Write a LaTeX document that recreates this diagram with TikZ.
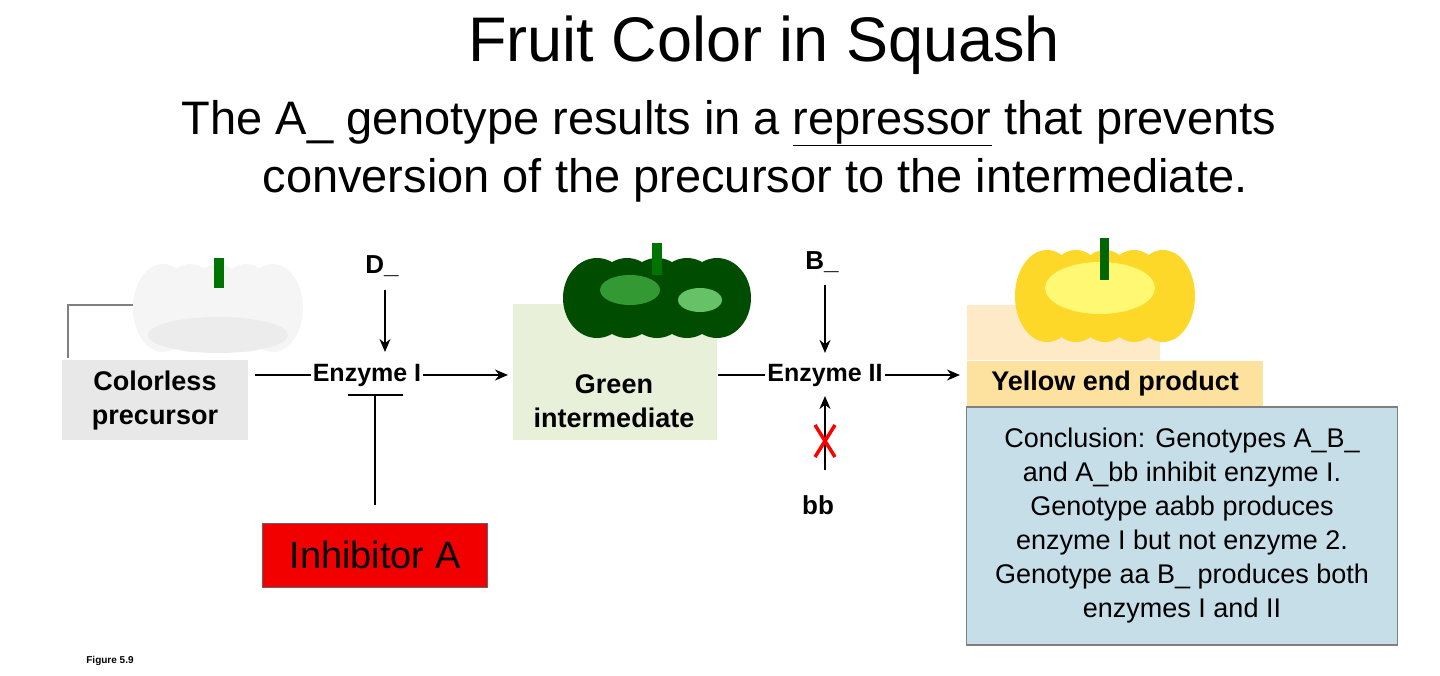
\documentclass[tikz,border=0pt]{standalone}
\usepackage{fontspec}
\usetikzlibrary{arrows.meta}
\setmainfont{Liberation Sans}
\begin{document}
\begin{tikzpicture}[x=1pt,y=-1pt,
  lbl/.style={font=\fontsize{27}{34}\selectfont\bfseries,align=center},
  arr/.style={line width=2pt,-{Stealth[length=13pt,width=11pt]}},
  ln/.style={line width=2pt}]
\useasboundingbox (0,0) rectangle (1440,676);
\node (title) at (764,45) {\fontsize{63}{68}\selectfont Fruit Color in Squash};
\node (sub1) at (729,123) [font=\fontsize{47}{57}\selectfont] {The A\_ genotype results in a \underline{repressor} that prevents};
\node (sub2) at (755,180) [font=\fontsize{47}{57}\selectfont] {conversion of the precursor to the intermediate.};
% white squash
\draw[gray,line width=1.5pt] (68,358) -- (68,305) -- (140,305);
\foreach \dx in {-55,-28,0,28,55} \fill[white!92!gray] (218+\dx,308) ellipse (30 and 44);
\fill[white!85!gray] (218,335) ellipse (70 and 18);
\fill[green!45!black] (214,258) rectangle (224,288);
\node[fill=gray!18,minimum width=186pt,minimum height=80pt] (cp) at (155,400) {};
\node[lbl] at (155,401) {Colorless\\precursor};
% green
\node[fill=green!20!olive!15,minimum width=204pt,minimum height=135pt] (gi) at (615,372) {};
\foreach \dx in {-60,-30,0,30,60} \fill[green!30!black] (657+\dx,298) ellipse (34 and 40);
\fill[green!50!black!80] (630,290) ellipse (30 and 15);
\fill[green!60!black!60] (700,300) ellipse (22 and 12);
\fill[green!45!black] (652,243) rectangle (662,275);
\node[lbl] at (614,401) {Green\\intermediate};
% yellow
\fill[yellow!25!orange!20] (967,305) rectangle (1160,360);
\node[fill=yellow!40!orange!35,minimum width=296pt,minimum height=45pt] (ye) at (1115,383) {};
\node[lbl] at (1115,384) {Yellow end product};
\foreach \dx in {-58,-29,0,29,58} \fill[yellow!70!orange!85] (1105+\dx,296) ellipse (32 and 46);
\fill[yellow!55!white] (1100,288) ellipse (55 and 26);
\fill[green!40!black] (1100,238) rectangle (1109,280);
% enzyme I
\node[font=\fontsize{25}{28}\selectfont\bfseries,inner sep=2pt] (e1) at (367,375) {Enzyme I};
\draw[ln] (255,375) -- (e1.west);
\draw[arr] (e1.east) -- (508,375);
\node[font=\fontsize{26}{28}\selectfont\bfseries] (d) at (382,266) {D\_};
\draw[arr] (385,290) -- (385,352);
\draw[ln] (348,395) -- (403,395);
\draw[ln] (375,395) -- (375,505);
\node[fill=red!95!black,draw=black!60,minimum width=225pt,minimum height=64pt] (ia) at (375,555) {\fontsize{38}{42}\selectfont Inhibitor A};
% enzyme II
\node[font=\fontsize{25}{28}\selectfont\bfseries,inner sep=2pt] (e2) at (825,375) {Enzyme II};
\draw[ln] (718,375) -- (e2.west);
\draw[arr] (e2.east) -- (960,375);
\node[font=\fontsize{26}{28}\selectfont\bfseries] (b) at (822,262) {B\_};
\draw[arr] (825,285) -- (825,353);
\node[font=\fontsize{26}{28}\selectfont\bfseries] (bb) at (818,505) {bb};
\draw[arr] (825,470) -- (825,396);
\draw[red,line width=3.5pt] (815,425) -- (835,457) (835,425) -- (815,457);
% conclusion
\node[fill=cyan!25!teal!25!white,draw=gray,line width=1.5pt,minimum width=431pt,minimum height=238pt,align=center,font=\fontsize{27}{34}\selectfont] (con) at (1182,526) {Conclusion: Genotypes A\_B\_\\and A\_bb inhibit enzyme I.\\Genotype aabb produces\\enzyme I but not enzyme 2.\\Genotype aa B\_ produces both\\enzymes I and II};
\node[font=\fontsize{10}{12}\selectfont\bfseries] (fig) at (110,661) {Figure 5.9};
\end{tikzpicture}
\end{document}
